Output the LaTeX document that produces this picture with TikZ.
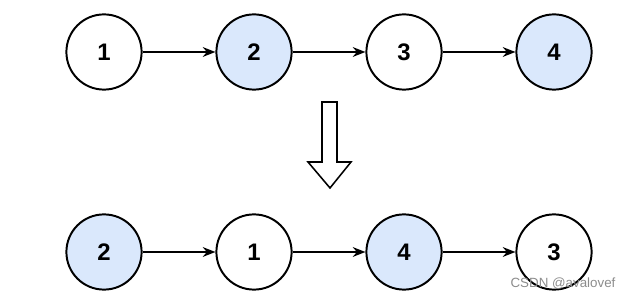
\documentclass[tikz,border=0pt]{standalone}
\usepackage{fontspec}
\setmainfont{Liberation Sans}
\usetikzlibrary{arrows.meta,positioning}
\definecolor{nodeblue}{HTML}{DAE8FC}

\begin{document}
\begin{tikzpicture}[x=0.025cm,y=-0.025cm,>={Stealth[length=9pt,width=7pt]},
  elem/.style={draw,circle,line width=1.4pt,minimum size=1.88cm,inner sep=0pt,fill=white,
    font=\fontsize{17}{20}\selectfont\bfseries},
  hl/.style={elem,fill=nodeblue},
  link/.style={->,line width=1.1pt}]
\useasboundingbox (0,0) rectangle (629,300);
% original list
\node[elem] (a1) at (104,52) {1};
\node[hl] (a2) at (254,52) {2};
\node[elem] (a3) at (404,52) {3};
\node[hl] (a4) at (554,52) {4};
% swapped pairs
\node[hl] (b2) at (104,252) {2};
\node[elem] (b1) at (254,252) {1};
\node[hl] (b4) at (404,252) {4};
\node[elem] (b3) at (554,252) {3};
\foreach \a/\b in {a1/a2,a2/a3,a3/a4,b2/b1,b1/b4,b4/b3}{
  \draw[link] (\a) -- (\b);}
% hollow arrow
\draw[line width=1.1pt,fill=white] (322,102) -- (337,102) -- (337,162) -- (351,162) -- (330,188)
  -- (308,162) -- (322,162) -- cycle;
\node[text=black!45,font=\fontsize{9.5}{11}\selectfont] (mark) at (563,284) {CSDN @avalovef};
\end{tikzpicture}
\end{document}
